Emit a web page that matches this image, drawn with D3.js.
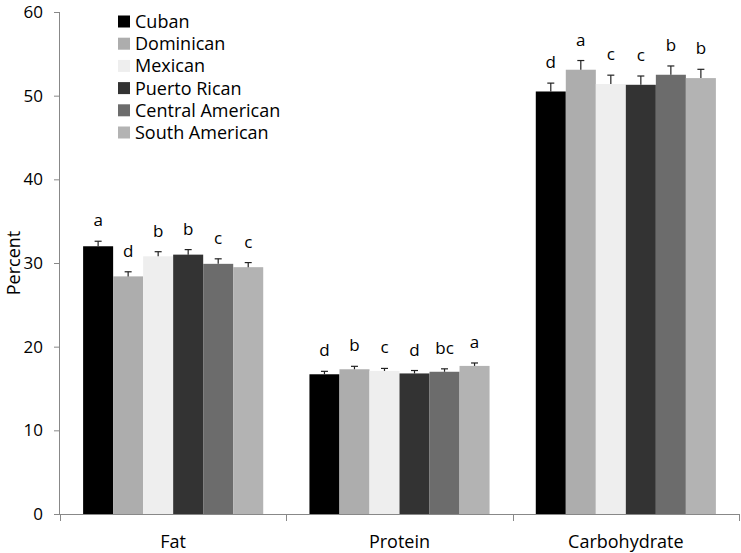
<!DOCTYPE html>
<html>
<head>
<meta charset="utf-8">
<script src="https://cdn.jsdelivr.net/npm/d3@7"></script>
<style>
  html, body { margin: 0; padding: 0; background: #fff; }
  svg { display: block; }
  text { font-family: "Open Sans", Lato, sans-serif; fill: #000; }
</style>
</head>
<body>
<svg id="chart" width="741" height="553"></svg>
<script>
const categories = ["Fat", "Protein", "Carbohydrate"];
const groups = ["Cuban", "Dominican", "Mexican", "Puerto Rican", "Central American", "South American"];
const groupColors = ["#000000", "#adadad", "#eeeeee", "#333333", "#6c6c6c", "#b3b3b3"];

const fatValues = [32.0, 28.4, 30.8, 31.0, 29.9, 29.5];
const proteinValues = [16.7, 17.3, 17.1, 16.8, 17.0, 17.7];
const carbValues = [50.5, 53.1, 51.4, 51.3, 52.5, 52.1];

const fatErrors = [0.6, 0.55, 0.55, 0.6, 0.6, 0.55];
const proteinErrors = [0.35, 0.35, 0.3, 0.35, 0.35, 0.35];
const carbErrors = [1.0, 1.1, 1.05, 1.05, 1.05, 1.05];

const fatLetters = ["a", "d", "b", "b", "c", "c"];
const proteinLetters = ["d", "b", "c", "d", "bc", "a"];
const carbLetters = ["d", "a", "c", "c", "b", "b"];

const yTicks = [0, 10, 20, 30, 40, 50, 60];
const yLabel = "Percent";

const valuesByCat = [fatValues, proteinValues, carbValues];
const errorsByCat = [fatErrors, proteinErrors, carbErrors];
const lettersByCat = [fatLetters, proteinLetters, carbLetters];

const data = [];
categories.forEach((c, ci) => {
  groups.forEach((g, gi) => {
    data.push({cat: c, group: g, value: valuesByCat[ci][gi], err: errorsByCat[ci][gi], letter: lettersByCat[ci][gi], color: groupColors[gi]});
  });
});

const svg = d3.select("#chart");
const mLeft = 60, mRight = 739, mTop = 12, mBottom = 514;
const fs = "18px";

const y = d3.scaleLinear().domain([0, 60]).range([mBottom, mTop]);
const x0 = d3.scaleBand().domain(categories).range([mLeft, mRight]).padding(0);
const x1 = d3.scaleBand().domain(groups).range([0, x0.bandwidth()]).paddingInner(0).paddingOuter(0.77);

const axisColor = "#888888";

// Y axis
const yAxis = svg.append("g").attr("transform", `translate(${mLeft},0)`)
  .call(d3.axisLeft(y).tickValues(yTicks).tickSize(6).tickPadding(11).tickFormat(d3.format("d")));
yAxis.select(".domain").attr("stroke", axisColor).attr("d", `M-0.5,${mBottom}V${mTop}`);
yAxis.selectAll(".tick line").attr("stroke", axisColor);
yAxis.selectAll(".tick text").style("font-size", "17px").style("font-family", "'Open Sans', sans-serif").attr("fill", "#000");

// X axis
const xAxisG = svg.append("g").attr("transform", `translate(0,${mBottom})`);
xAxisG.append("line").attr("x1", mLeft).attr("x2", mRight).attr("y1", 0.5).attr("y2", 0.5).attr("stroke", axisColor);
const boundaries = categories.map(c => x0(c)).concat([x0(categories[categories.length - 1]) + x0.bandwidth()]);
xAxisG.selectAll("line.tick").data(boundaries).join("line")
  .attr("class", "tick")
  .attr("x1", d => Math.round(d) + 0.5).attr("x2", d => Math.round(d) + 0.5)
  .attr("y1", 0).attr("y2", 7).attr("stroke", axisColor);
xAxisG.selectAll("text.cat").data(categories).join("text")
  .attr("class", "cat")
  .attr("x", d => x0(d) + x0.bandwidth() / 2)
  .attr("y", 34)
  .attr("text-anchor", "middle")
  .style("font-size", fs)
  .text(d => d);

// Y label
svg.append("text")
  .attr("transform", `translate(20,${(mTop + mBottom) / 2}) rotate(-90)`)
  .attr("text-anchor", "middle")
  .style("font-size", fs)
  .text(yLabel);

// Bars
svg.append("g").selectAll("rect").data(data).join("rect")
  .attr("x", d => x0(d.cat) + x1(d.group))
  .attr("y", d => y(d.value))
  .attr("width", x1.bandwidth())
  .attr("height", d => y(0) - y(d.value))
  .attr("fill", d => d.color);

// Error bars
const errG = svg.append("g").attr("stroke", "#222").attr("stroke-width", 1.2);
errG.selectAll("line.v").data(data).join("line")
  .attr("class", "v")
  .attr("x1", d => x0(d.cat) + x1(d.group) + x1.bandwidth() / 2)
  .attr("x2", d => x0(d.cat) + x1(d.group) + x1.bandwidth() / 2)
  .attr("y1", d => y(d.value))
  .attr("y2", d => y(d.value + d.err));
errG.selectAll("line.cap").data(data).join("line")
  .attr("class", "cap")
  .attr("x1", d => x0(d.cat) + x1(d.group) + x1.bandwidth() / 2 - 3.5)
  .attr("x2", d => x0(d.cat) + x1(d.group) + x1.bandwidth() / 2 + 3.5)
  .attr("y1", d => y(d.value + d.err))
  .attr("y2", d => y(d.value + d.err));

// Letters
svg.append("g").selectAll("text").data(data).join("text")
  .attr("x", d => x0(d.cat) + x1(d.group) + x1.bandwidth() / 2)
  .attr("y", d => y(d.value + d.err) - 15)
  .attr("text-anchor", "middle")
  .style("font-size", "17px")
  .text(d => d.letter);

// Legend
const legend = svg.append("g").attr("transform", "translate(118,0)");
const legItems = legend.selectAll("g").data(groups).join("g")
  .attr("transform", (d, i) => `translate(0,${21.5 + i * 22.2})`);
legItems.append("rect").attr("x", 0).attr("y", -6).attr("width", 12).attr("height", 12)
  .attr("fill", (d, i) => groupColors[i]);
legItems.append("text").attr("x", 17).attr("y", 6.5).style("font-size", fs).text(d => d);
</script>
</body>
</html>
